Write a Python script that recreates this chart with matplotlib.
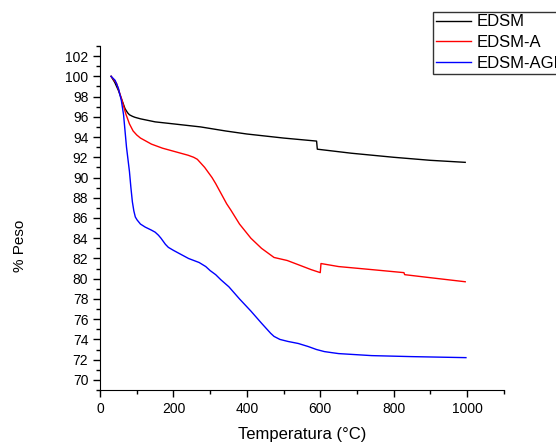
import matplotlib
matplotlib.use("Agg")
import matplotlib.pyplot as plt
from matplotlib.ticker import MultipleLocator

plt.rcParams['font.family'] = ['Liberation Sans', 'DejaVu Sans']

edsm_x = [30, 40, 50, 60, 68, 75, 80, 88, 95, 110, 130, 150, 200, 274, 342, 400, 500, 590, 592, 685, 800, 900, 995]
edsm_y = [100.0, 99.4, 98.6, 97.6, 96.8, 96.4, 96.2, 96.05, 95.95, 95.8, 95.65, 95.5, 95.3, 95.0, 94.6, 94.3, 93.9, 93.6, 92.8, 92.4, 92.0, 91.7, 91.5]

edsma_x = [30, 45, 60, 70, 80, 90, 100, 110, 140, 170, 220, 240, 255, 265, 275, 285, 295, 305, 315, 330, 345, 356, 380, 411, 440, 474, 510, 539, 575, 600, 602, 650, 740, 828, 830, 900, 995]
edsma_y = [100.0, 99.3, 97.6, 96.3, 95.3, 94.6, 94.2, 93.9, 93.3, 92.9, 92.4, 92.2, 92.0, 91.8, 91.4, 91.0, 90.5, 90.0, 89.4, 88.4, 87.4, 86.8, 85.4, 84.0, 83.0, 82.1, 81.8, 81.4, 80.9, 80.6, 81.5, 81.2, 80.9, 80.6, 80.4, 80.1, 79.7]

edsmagf_x = [30, 41, 50, 58, 64, 68, 72, 77, 80, 84, 88, 92, 96, 101, 110, 123, 140, 150, 159, 166, 172, 178, 186, 200, 241, 270, 288, 300, 315, 329, 351, 380, 411, 440, 455, 465, 474, 490, 512, 540, 567, 590, 611, 630, 650, 740, 850, 997]
edsmagf_y = [100.0, 99.6, 98.8, 97.6, 96.2, 94.6, 93.0, 91.5, 90.6, 89.0, 87.6, 86.7, 86.1, 85.8, 85.4, 85.1, 84.8, 84.6, 84.3, 84.0, 83.7, 83.4, 83.1, 82.8, 82.0, 81.6, 81.2, 80.8, 80.4, 79.9, 79.2, 78.0, 76.8, 75.6, 75.0, 74.6, 74.3, 74.0, 73.8, 73.6, 73.3, 73.0, 72.8, 72.7, 72.6, 72.4, 72.3, 72.2]

series = [("EDSM", edsm_x, edsm_y, "black"),
          ("EDSM-A", edsma_x, edsma_y, "red"),
          ("EDSM-AGF", edsmagf_x, edsmagf_y, "blue")]

fig = plt.figure(figsize=(5.56, 4.42), dpi=100)
ax = fig.add_axes([0.18, 0.1176, 0.726, 0.7784])

handles = []
for name, xs, ys, c in series:
    h, = ax.plot(xs, ys, color=c, lw=1.0, label=name)
    handles.append(h)

ax.set_xlim(0, 1100)
ax.set_ylim(69, 103)
ax.xaxis.set_major_locator(MultipleLocator(200))
ax.xaxis.set_minor_locator(MultipleLocator(100))
ax.yaxis.set_minor_locator(MultipleLocator(1))
ax.set_yticks(range(70, 103, 2))
ax.spines['top'].set_visible(False)
ax.spines['right'].set_visible(False)
ax.tick_params(which='major', direction='out', length=5, width=1, labelsize=10)
ax.tick_params(which='minor', direction='out', length=3, width=1)

ax.set_xlabel("Temperatura (°C)", fontsize=12, labelpad=8)
ax.set_ylabel("% Peso", fontsize=11)
ax.yaxis.set_label_coords(-0.18, 0.42)

leg = fig.legend(handles=handles, loc='upper left', bbox_to_anchor=(433/556, 1 - 12/442),
                 fontsize=12, frameon=True, fancybox=False, edgecolor='black',
                 handlelength=2.1, handletextpad=0.35, borderpad=0.15, labelspacing=0.35,
                 borderaxespad=0)
leg.get_frame().set_linewidth(1.0)

fig.savefig("out.png", dpi=100)
